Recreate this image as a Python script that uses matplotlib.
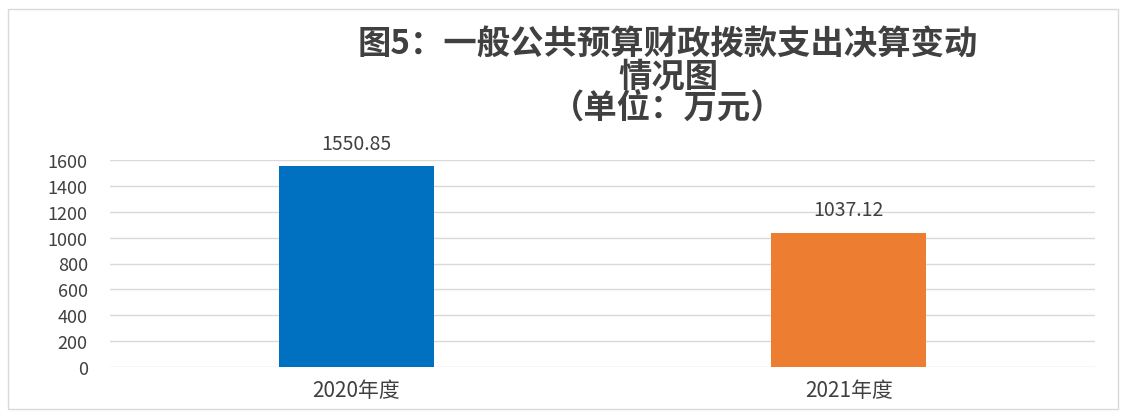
import matplotlib
matplotlib.use('Agg')
import matplotlib.pyplot as plt
from matplotlib.patches import Rectangle

plt.rcParams['font.family'] = ['Noto Sans CJK SC', 'DejaVu Sans']

# data
categories = ['2020年度', '2021年度']
values = [1550.85, 1037.12]
value_labels = ['1550.85', '1037.12']
bar_colors = ['#0070C0', '#ED7D31']
title_lines = ['图5：一般公共预算财政拨款支出决算变动', '情况图', '（单位：万元）']

fig = plt.figure(figsize=(11.23, 4.14), dpi=100)
ax = fig.add_axes([110 / 1123, 1 - 368 / 414, 985 / 1123, 207 / 414])

x = range(len(categories))
ax.bar(x, values, width=0.315, color=bar_colors, zorder=3)
for xi, v, lab in zip(x, values, value_labels):
    ax.annotate(lab, (xi, v), xytext=(0, 9), textcoords='offset points',
                ha='center', va='bottom', fontsize=14, color='#404040')

ax.set_xlim(-0.5, 1.5)
ax.set_ylim(0, 1600)
ax.set_yticks(range(0, 1601, 200))
ax.set_xticks(list(x))
ax.set_xticklabels(categories)
ax.tick_params(axis='both', length=0, labelcolor='#404040')
ax.tick_params(axis='x', pad=9, labelsize=15)
ax.tick_params(axis='y', pad=16, labelsize=13)
ax.grid(axis='y', color='#D9D9D9', linewidth=1, zorder=0)
for s in ax.spines.values():
    s.set_visible(False)

# title, one line at a time to control the spacing
for i, line in enumerate(title_lines):
    fig.text(668 / 1123, 1 - (45 + 32 * i) / 414, line, ha='center', va='center',
             fontsize=24, fontweight='bold', color='#404040')

# outer frame
fig.patches.append(Rectangle((8 / 1123, 4 / 414), 1110 / 1123, 400 / 414,
                             transform=fig.transFigure, fill=False,
                             edgecolor='#D9D9D9', linewidth=1))

fig.savefig('out.png', dpi=100)
